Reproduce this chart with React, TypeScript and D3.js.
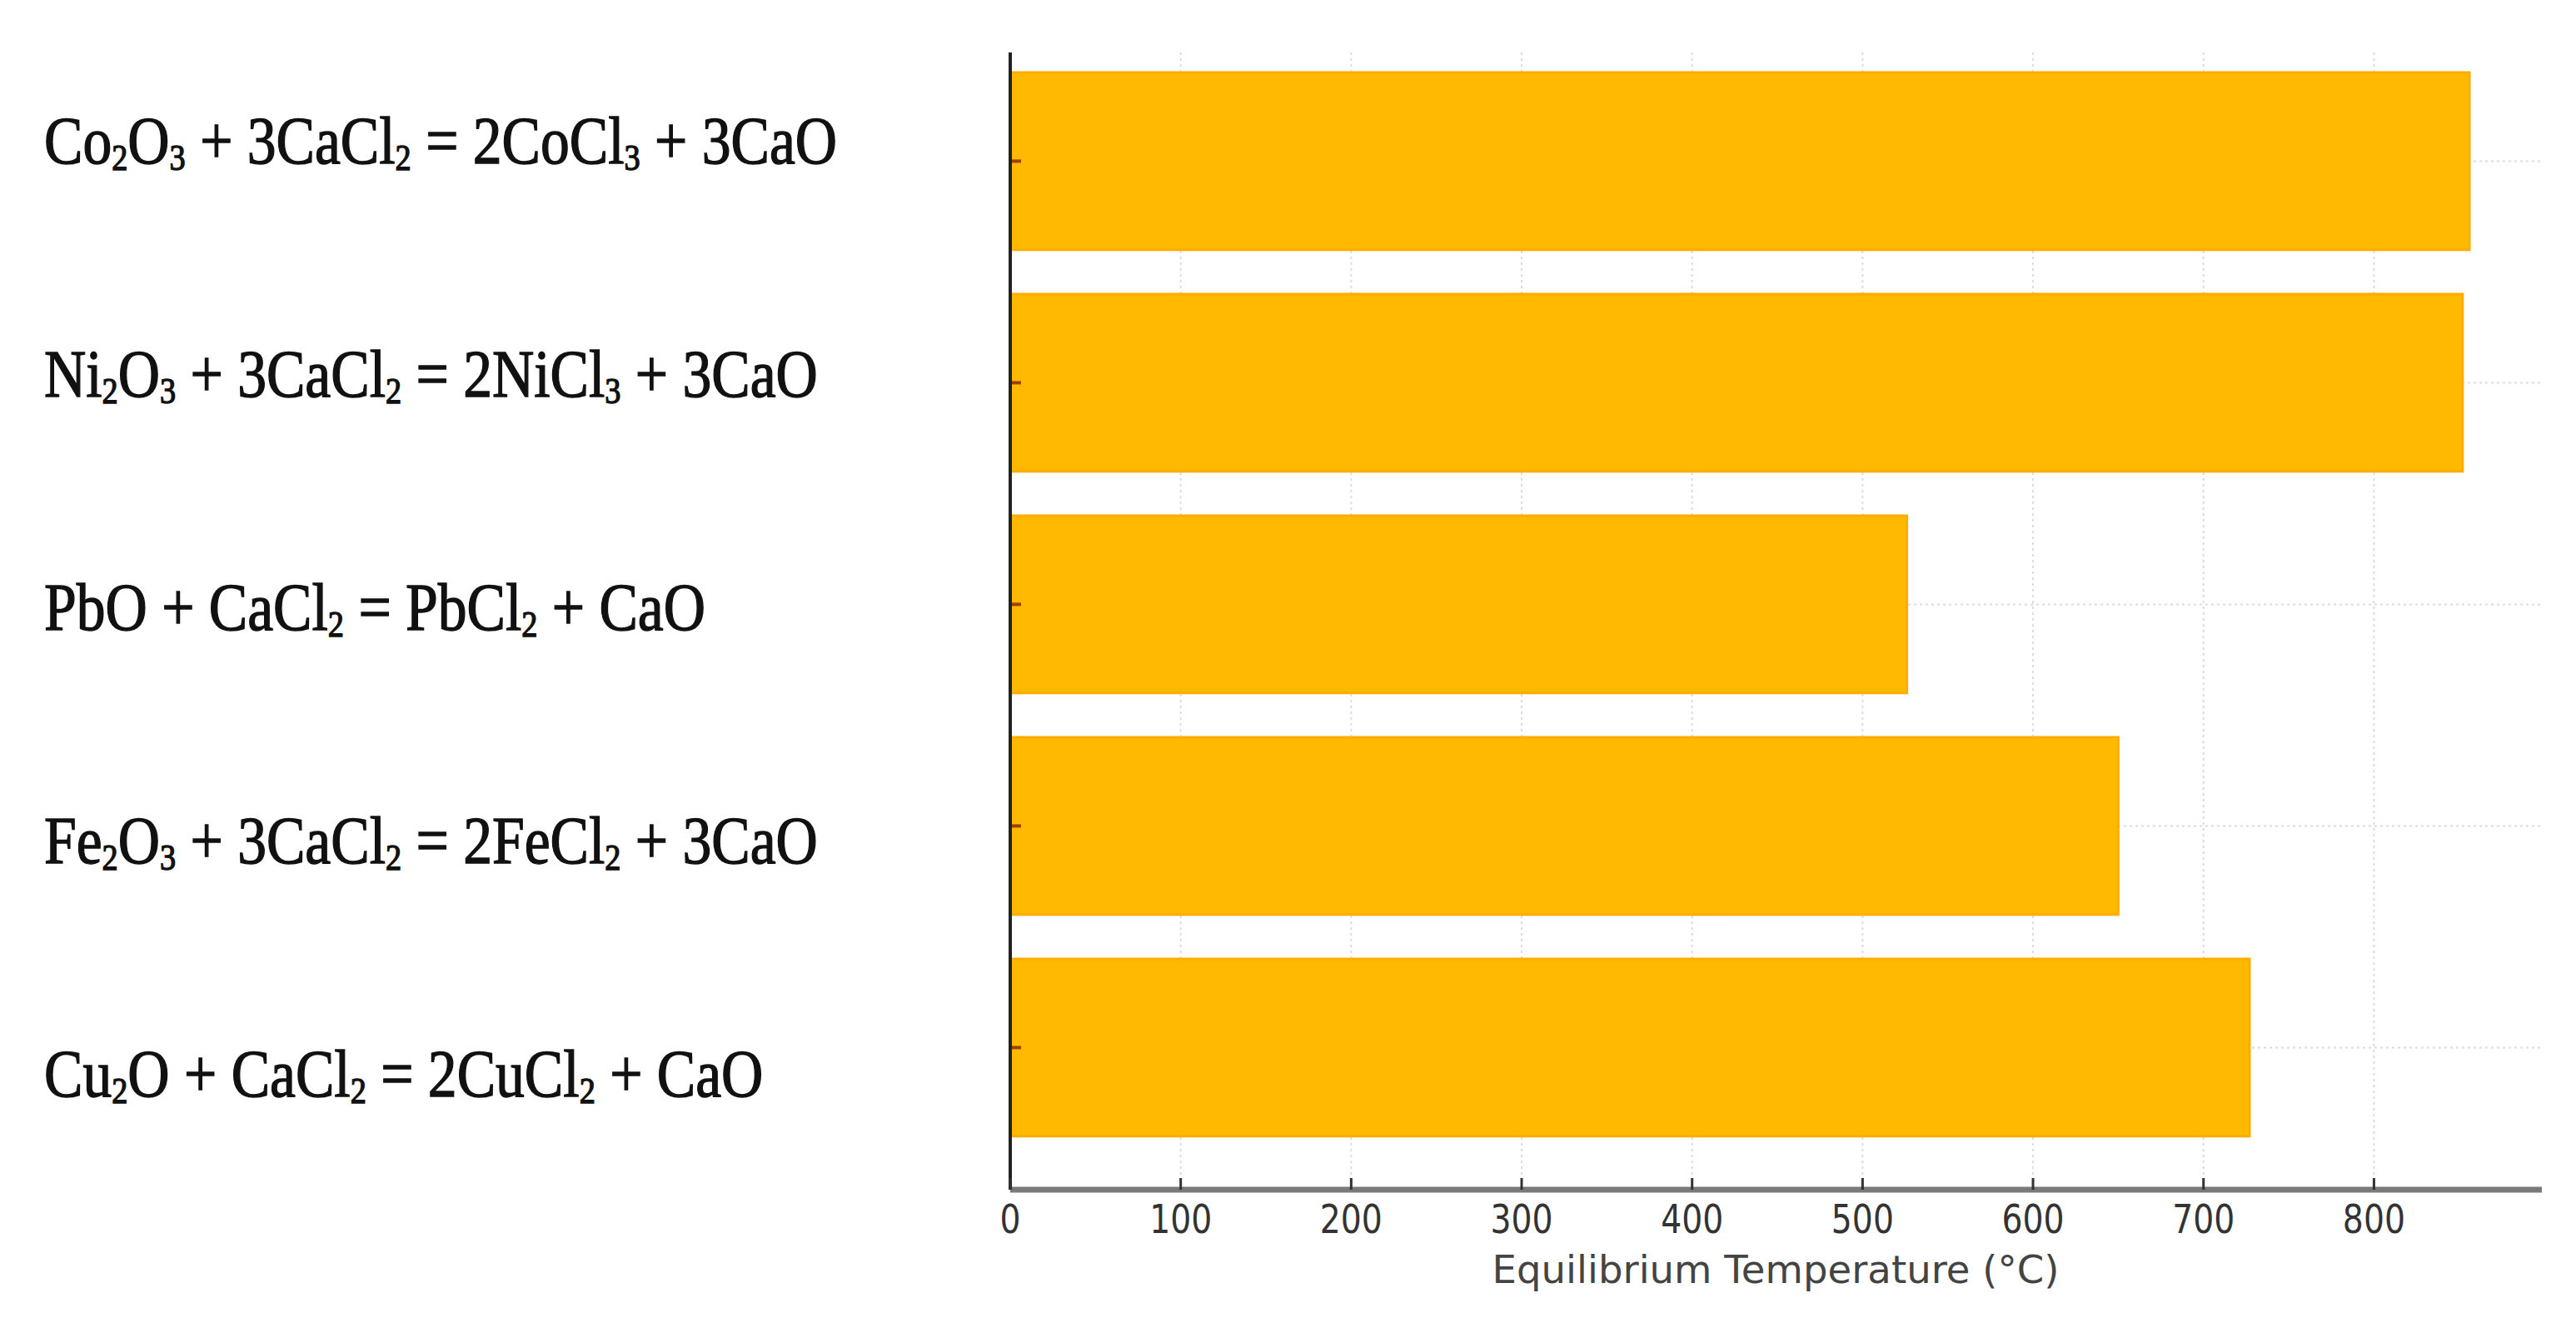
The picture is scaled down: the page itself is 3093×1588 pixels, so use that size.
import React from "react";
import * as d3 from "d3";

const categories = [
  "Co2O3 + 3CaCl2 = 2CoCl3 + 3CaO",
  "Ni2O3 + 3CaCl2 = 2NiCl3 + 3CaO",
  "PbO + CaCl2 = PbCl2 + CaO",
  "Fe2O3 + 3CaCl2 = 2FeCl2 + 3CaO",
  "Cu2O + CaCl2 = 2CuCl2 + CaO",
];
const temperatures = [856, 852, 526, 650, 727];
const xTicks = [0, 100, 200, 300, 400, 500, 600, 700, 800];
const xTitle = "Equilibrium Temperature (°C)";

const W = 3093;
const H = 1588;

function splitFormula(s: string) {
  const out: { t: string; sub: boolean }[] = [];
  for (let i = 0; i < s.length; i++) {
    const c = s[i];
    const prev = i > 0 ? s[i - 1] : " ";
    const isDigit = /[0-9]/.test(c);
    const sub = isDigit && (/[A-Za-z]/.test(prev) || (out.length > 0 && out[out.length - 1].sub && /[0-9]/.test(prev)));
    if (out.length && out[out.length - 1].sub === sub) out[out.length - 1].t += c;
    else out.push({ t: c, sub });
  }
  return out;
}

export default function App() {
  const plotLeft = 1213;
  const plotRight = 3051;
  const plotTop = 63;
  const plotBottom = 1428;

  const x = d3.scaleLinear().domain([0, 898]).range([plotLeft, plotRight]);
  const y = d3
    .scaleBand<string>()
    .domain(categories)
    .range([60.4, 1390.4])
    .paddingInner(0.2)
    .paddingOuter(0.1);
  const labelY = d3.scalePoint<string>().domain(categories).range([169, 1289]);

  const subShift = 8;
  const mainSize = 80;
  const subSize = 44;

  return (
    <svg
      width={W}
      height={H}
      viewBox={`0 0 ${W} ${H}`}
      style={{ position: "absolute", left: 0, top: 0, background: "#ffffff" }}
    >
      <rect x={0} y={0} width={W} height={H} fill="#ffffff" />
      {xTicks.map((t) => (
        <line
          key={"gx" + t}
          x1={x(t)}
          x2={x(t)}
          y1={plotTop}
          y2={plotBottom}
          stroke="#dcdcdc"
          strokeWidth={2}
          strokeDasharray="3,4"
        />
      ))}
      {categories.map((c) => (
        <line
          key={"gy" + c}
          x1={plotLeft}
          x2={plotRight}
          y1={(y(c) as number) + y.bandwidth() / 2}
          y2={(y(c) as number) + y.bandwidth() / 2}
          stroke="#dcdcdc"
          strokeWidth={2}
          strokeDasharray="3,4"
        />
      ))}
      {categories.map((c, i) => (
        <rect
          key={"b" + c}
          x={x(0)}
          y={y(c) as number}
          width={x(temperatures[i]) - x(0)}
          height={y.bandwidth()}
          fill="#FFBA00"
          stroke="#FFAC00"
          strokeWidth={3}
        />
      ))}
      {categories.map((c) => (
        <line
          key={"yt" + c}
          x1={plotLeft}
          x2={plotLeft + 13}
          y1={(y(c) as number) + y.bandwidth() / 2}
          y2={(y(c) as number) + y.bandwidth() / 2}
          stroke="#a04000"
          strokeWidth={4}
        />
      ))}
      <line x1={plotLeft} x2={plotRight + 1} y1={plotBottom} y2={plotBottom} stroke="#7a7a7a" strokeWidth={7} />
      <line x1={plotLeft} x2={plotLeft} y1={plotTop} y2={plotBottom} stroke="#222222" strokeWidth={4} />
      {xTicks.map((t) => (
        <g key={"xt" + t}>
          <line x1={x(t)} x2={x(t)} y1={plotBottom - 14} y2={plotBottom} stroke="#333" strokeWidth={3} />
          <text
            transform={`translate(${x(t)},${1480}) scale(0.82,1)`}
            textAnchor="middle"
            fontFamily="DejaVu Sans"
            fontSize={48}
            fill="#333"
          >
            {t}
          </text>
        </g>
      ))}
      <text
        x={(plotLeft + plotRight) / 2}
        y={1540}
        textAnchor="middle"
        fontFamily="DejaVu Sans"
        fontSize={46}
        fill="#444"
        textLength={681}
        lengthAdjust="spacingAndGlyphs"
      >
        {xTitle}
      </text>
      {categories.map((c) => {
        const parts = splitFormula(c);
        let shifted = false;
        return (
          <text
            key={"l" + c}
            transform={`translate(53,${(labelY(c) as number) + 27}) scale(0.87,1)`}
            fontFamily="Liberation Serif"
            fontSize={mainSize}
            fill="#111"
            stroke="#111"
            strokeWidth={1.4}
          >
            {parts.map((p, k) => {
              let dy = 0;
              if (p.sub && !shifted) {
                dy = subShift;
                shifted = true;
              } else if (!p.sub && shifted) {
                dy = -subShift;
                shifted = false;
              }
              return (
                <tspan key={k} dy={dy} fontSize={p.sub ? subSize : mainSize}>
                  {p.t}
                </tspan>
              );
            })}
          </text>
        );
      })}
    </svg>
  );
}
